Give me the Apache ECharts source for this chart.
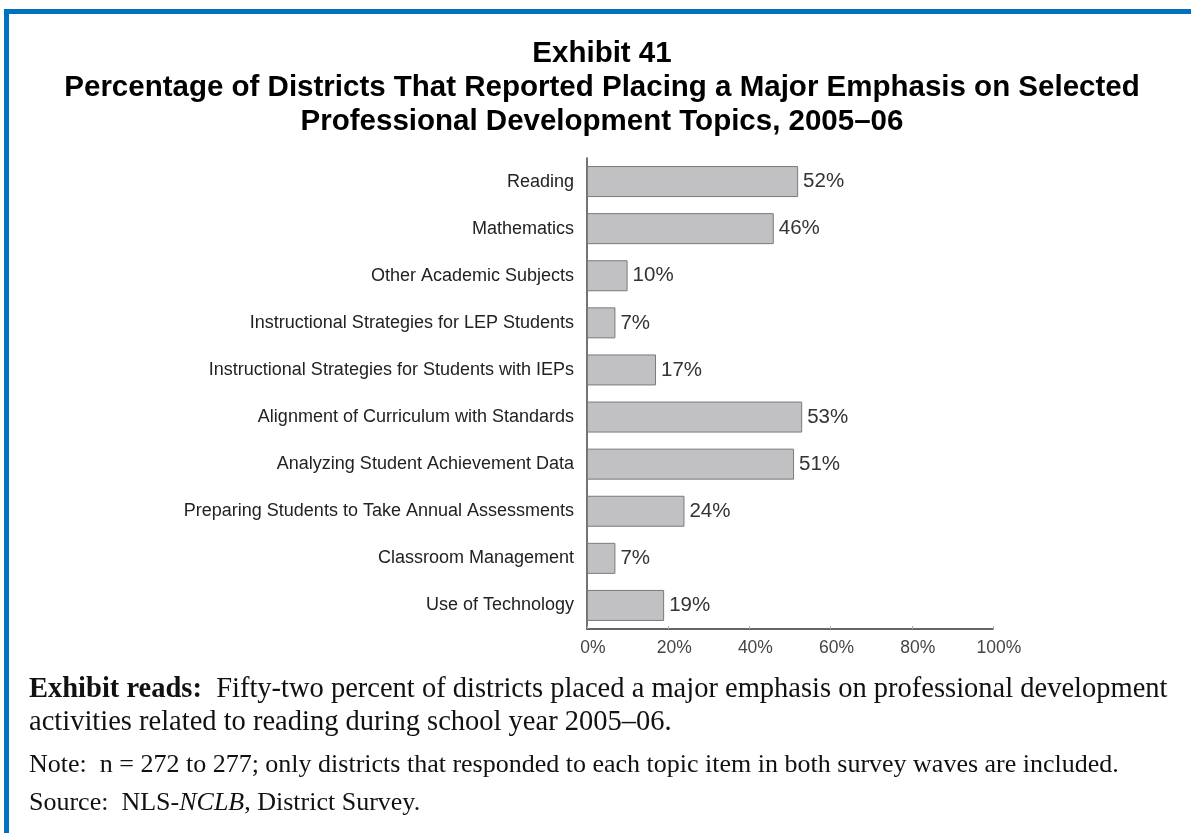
<!DOCTYPE html>
<html>
<head>
<meta charset="utf-8">
<script src="https://cdn.jsdelivr.net/npm/echarts@6/dist/echarts.min.js"></script>
<style>
html,body{margin:0;padding:0;background:#fff;}
#chart{width:1191px;height:833px;}
</style>
</head>
<body>
<div id="chart"></div>
<script>
const categories = [
  'Reading',
  'Mathematics',
  'Other Academic Subjects',
  'Instructional Strategies for LEP Students',
  'Instructional Strategies for Students with IEPs',
  'Alignment of Curriculum with Standards',
  'Analyzing Student Achievement Data',
  'Preparing Students to Take Annual Assessments',
  'Classroom Management',
  'Use of Technology'
];
const values = [52, 46, 10, 7, 17, 53, 51, 24, 7, 19];
const xTicks = [0, 20, 40, 60, 80, 100];

const titleLines = [
  'Exhibit 41',
  'Percentage of Districts That Reported Placing a Major Emphasis on Selected',
  'Professional Development Topics, 2005\u201306'
];
const footerRead1 = 'Fifty-two percent of districts placed a major emphasis on professional development';
const footerRead2 = 'activities related to reading during school year 2005\u201306.';
const footerNote = 'Note:  n = 272 to 277; only districts that responded to each topic item in both survey waves are included.';
const footerSource = ['Source:  NLS-', 'NCLB', ', District Survey.'];

const chart = echarts.init(document.getElementById('chart'), null, {renderer: 'canvas'});
const serif = '"Liberation Serif", "DejaVu Serif", serif';
const sans = '"Liberation Sans", Arial, sans-serif';

chart.setOption({
  backgroundColor: '#ffffff',
  animation: false,
  title: {
    text: titleLines.join('\n'),
    left: 597,
    top: 32,
    textAlign: 'center',
    textStyle: {
      fontFamily: sans,
      fontWeight: 'bold',
      fontSize: 29.5,
      lineHeight: 34,
      color: '#000'
    }
  },
  grid: {
    left: 587,
    top: 158,
    width: 406,
    height: 471,
    containLabel: false
  },
  xAxis: {
    type: 'value',
    min: 0,
    max: 100,
    interval: 20,
    axisLine: {show: true, lineStyle: {color: '#333', width: 1.5}},
    axisTick: {show: true, inside: true, length: 3, lineStyle: {color: '#aaa'}},
    splitLine: {show: false},
    axisLabel: {
      formatter: v => xTicks.includes(v) ? v + '%' : '',
      fontFamily: sans,
      fontSize: 17.5,
      color: '#444',
      margin: 10,
      padding: [0, 0, 0, 12]
    }
  },
  yAxis: {
    type: 'category',
    inverse: true,
    data: categories,
    axisLine: {show: true, lineStyle: {color: '#444', width: 1.5}},
    axisTick: {show: false},
    axisLabel: {
      fontFamily: sans,
      fontSize: 18,
      color: '#222',
      margin: 13
    }
  },
  series: [{
    type: 'bar',
    data: values,
    barWidth: 31,
    itemStyle: {
      color: '#c1c1c3',
      borderColor: '#7a7a7a',
      borderWidth: 1
    },
    label: {
      show: true,
      position: 'right',
      distance: 5,
      formatter: '{c}%',
      fontFamily: sans,
      fontSize: 20.5,
      color: '#333'
    }
  }],
  graphic: [
    {type: 'rect', shape: {x: 4, y: 9, width: 1187, height: 5}, style: {fill: '#0070C0'}},
    {type: 'rect', shape: {x: 4, y: 9, width: 5, height: 824}, style: {fill: '#0070C0'}},
    {
      type: 'text', x: 29, y: 690,
      style: {
        text: '{b|Exhibit reads:}  ' + footerRead1,
        fontFamily: serif, fontSize: 28.5, fill: '#111', verticalAlign: 'middle',
        rich: {b: {fontFamily: serif, fontSize: 28.5, fontWeight: 'bold', fill: '#111'}}
      }
    },
    {
      type: 'text', x: 29, y: 723,
      style: {text: footerRead2, fontFamily: serif, fontSize: 28.5, fill: '#111', verticalAlign: 'middle'}
    },
    {
      type: 'text', x: 29, y: 765,
      style: {text: footerNote, fontFamily: serif, fontSize: 26, fill: '#111', verticalAlign: 'middle'}
    },
    {
      type: 'text', x: 29, y: 803,
      style: {
        text: footerSource[0] + '{i|' + footerSource[1] + '}' + footerSource[2],
        fontFamily: serif, fontSize: 26, fill: '#111', verticalAlign: 'middle',
        rich: {i: {fontFamily: serif, fontSize: 26, fontStyle: 'italic', fill: '#111'}}
      }
    }
  ]
});
</script>
</body>
</html>
